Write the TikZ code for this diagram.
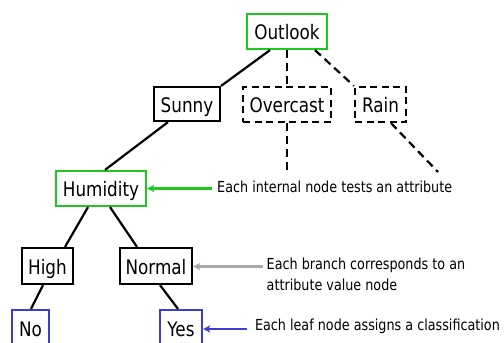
\documentclass[tikz,border=0pt]{standalone}
\usepackage{fontspec}
\setmainfont[FakeStretch=0.84]{DejaVu Sans}
\usetikzlibrary{arrows.meta,calc}

\definecolor{testgreen}{RGB}{30,200,30}
\definecolor{leafblue}{RGB}{60,60,210}
\definecolor{notegrey}{RGB}{170,170,170}

\begin{document}
\begin{tikzpicture}[x=1pt,y=-1pt,
  treebox/.style={draw,line width=2.2pt,inner sep=0pt,
    font=\fontsize{20}{23}\selectfont,text height=16.4pt,text depth=0pt},
  dashbox/.style={treebox,dash pattern=on 7pt off 4.5pt},
  branch/.style={line width=2.2pt},
  dashbranch/.style={line width=2.2pt,dash pattern=on 8pt off 5pt},
  note/.style={inner sep=0pt,font=\fontsize{15.2}{21.4}\selectfont,align=left},
  pointer/.style={line width=2.2pt,-{Stealth[length=7pt,width=7pt,inset=1.5pt]}}
]
\useasboundingbox (0,0) rectangle (504,343);

% tree nodes
\node[treebox,draw=testgreen,minimum width=80pt,minimum height=35pt] (outlook) at (287,31.5) {Outlook};
\node[treebox,minimum width=66pt,minimum height=34pt] (sunny) at (187,104) {Sunny};
\node[dashbox,minimum width=88pt,minimum height=35pt] (overcast) at (287,104.5) {Overcast};
\node[dashbox,minimum width=51pt,minimum height=35pt] (rain) at (380.5,104.5) {Rain};
\node[treebox,draw=testgreen,minimum width=90pt,minimum height=35pt] (humidity) at (101,188.5) {Humidity};
\node[treebox,minimum width=51pt,minimum height=36pt] (high) at (47.5,266) {High};
\node[treebox,minimum width=72pt,minimum height=36pt] (normal) at (156,266) {Normal};
\node[treebox,draw=leafblue,minimum width=37pt,minimum height=36pt] (no) at (30.5,328) {No};
\node[treebox,draw=leafblue,minimum width=42pt,minimum height=36pt] (yes) at (181,328) {Yes};

% branches
\draw[branch] ($(outlook.south)+(-17,0)$) -- (sunny.north east);
\draw[dashbranch] (outlook.south) -- (overcast.north);
\draw[dashbranch] ($(outlook.south)+(28,0)$) -- (rain.north west);
\coordinate (overcastend) at (287,172);
\coordinate (rainend) at (438,172);
\draw[dashbranch] (overcast.south) -- (overcastend);
\draw[dashbranch] ($(rain.south)+(10.5,0)$) -- (rainend);
\draw[branch] ($(sunny.south)+(-19,0)$) -- ($(humidity.north)+(4,0)$);
\draw[branch] ($(humidity.south)+(-13,0)$) -- ($(high.north)+(17.5,0)$);
\draw[branch] ($(humidity.south)+(9,0)$) -- ($(normal.north)+(-19,0)$);
\draw[branch] ($(high.south)+(-4.5,0)$) -- ($(no.north)+(0.5,0)$);
\draw[branch] ($(normal.south)+(4,0)$) -- ($(yes.north)+(-3,0)$);

% explanatory notes
\node[note,anchor=base west] (internalnote) at (217,192.3) {Each internal node tests an attribute};
\node[note,anchor=base west] (branchnote) at (266.5,290.7) {Each branch corresponds to an\\attribute value node};
\node[note,anchor=base west] (leafnote) at (254.8,330) {Each leaf node assigns a classification};

\coordinate (internaltail) at (212,188.5);
\coordinate (branchtail) at (263,266.5);
\coordinate (leaftail) at (246.7,329);
\draw[pointer,testgreen] (internaltail) -- (humidity.east |- internaltail);
\draw[pointer,notegrey] (branchtail) -- (normal.east |- branchtail);
\draw[pointer,leafblue] (leaftail) -- (yes.east |- leaftail);
\end{tikzpicture}
\end{document}
